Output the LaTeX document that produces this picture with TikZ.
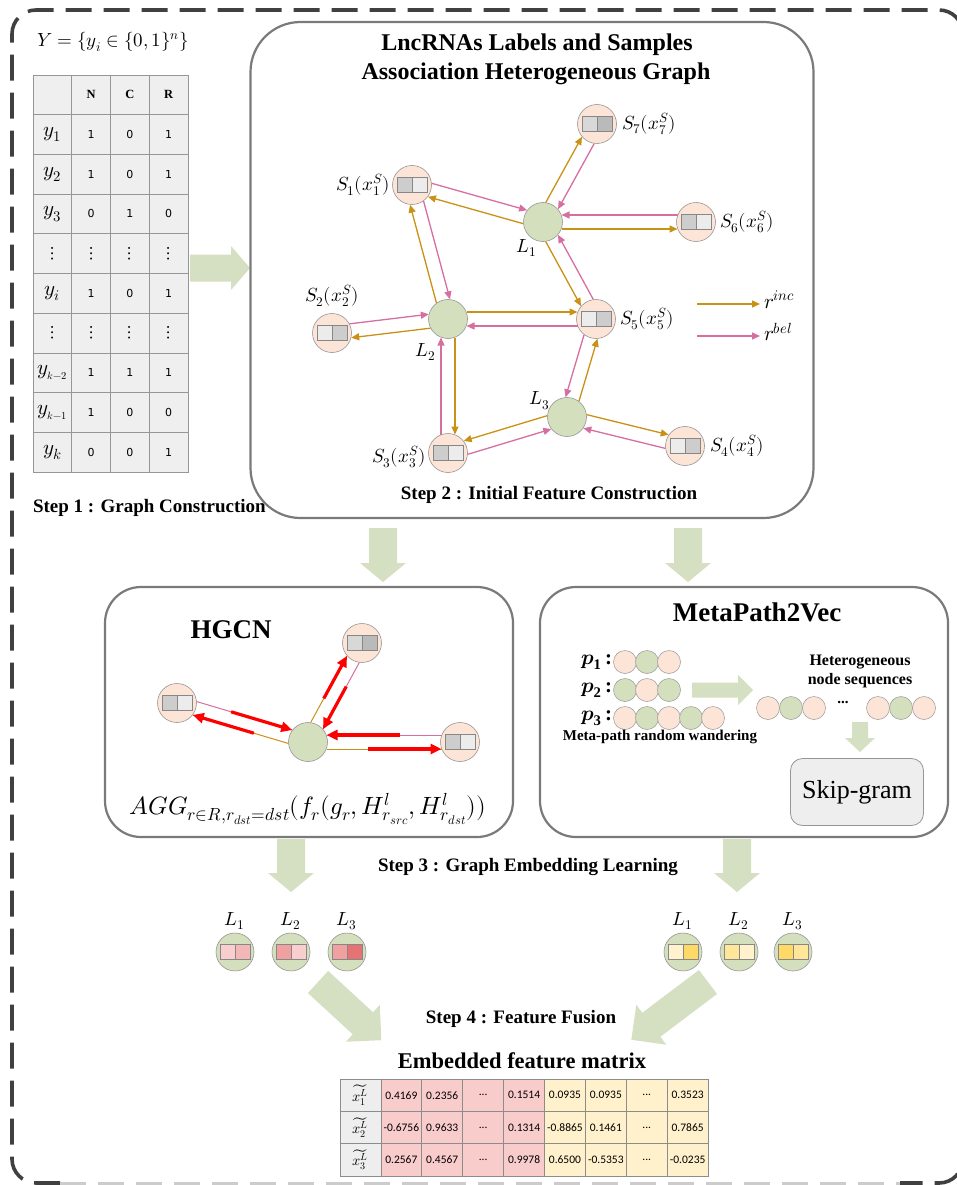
\documentclass[tikz,border=0pt]{standalone}
\usepackage{fontspec}
\usepackage{unicode-math}
\setmainfont{Liberation Serif}
\setmathfont{Latin Modern Math}
\newfontfamily\calibf{Carlito}
\newfontfamily\dejaf{DejaVu Sans}
\usetikzlibrary{calc,arrows.meta,shapes.geometric}

\definecolor{peach}{RGB}{252,228,214}
\definecolor{lgreen}{RGB}{212,223,190}
\definecolor{agreen}{RGB}{213,223,194}
\definecolor{goldc}{RGB}{201,145,22}
\definecolor{pinkc}{RGB}{215,110,160}
\definecolor{bordgray}{RGB}{122,122,122}
\definecolor{nodegray}{RGB}{150,150,150}
\definecolor{bargray}{RGB}{135,135,135}
\definecolor{tgray}{RGB}{239,239,239}
\definecolor{tline}{RGB}{150,150,150}
\definecolor{outerc}{RGB}{64,64,64}
\definecolor{matpink}{RGB}{249,204,204}
\definecolor{matyel}{RGB}{255,241,204}
\definecolor{matgray}{RGB}{238,238,238}
\definecolor{mline}{RGB}{140,140,140}
\definecolor{ga}{RGB}{236,236,236}
\definecolor{gb}{RGB}{205,205,205}
\definecolor{gc}{RGB}{216,216,216}
\definecolor{gd}{RGB}{186,186,186}
\definecolor{hpa}{RGB}{248,206,206}
\definecolor{hpb}{RGB}{244,183,183}
\definecolor{hpc}{RGB}{241,160,160}
\definecolor{hpd}{RGB}{229,115,115}
\definecolor{ya}{RGB}{255,242,204}
\definecolor{yb}{RGB}{255,217,102}
\definecolor{yc}{RGB}{255,230,153}

\newcommand\fsz[1]{\fontsize{#1}{#1}\selectfont}

\newcommand\featbar[5]{%
  \draw[bar, fill=#2] ([shift={(-#4,-#5)}]#1.center) rectangle ([shift={(0,#5)}]#1.center);
  \draw[bar, fill=#3] ([shift={(0,-#5)}]#1.center) rectangle ([shift={(#4,#5)}]#1.center);}

\newcommand\biedge[4]{%
  \draw[incE] ($(#1)!7pt!#3:(#2)$) -- ($(#2)!7pt!#4:(#1)$);
  \draw[belE] ($(#2)!7pt!#3:(#1)$) -- ($(#1)!7pt!#4:(#2)$);}

\newcommand\hpair[4]{%
  \coordinate (qa) at ($(#1)!7pt!#3:(#2)$);
  \coordinate (qb) at ($(#2)!7pt!#4:(#1)$);
  \coordinate (qc) at ($(#2)!7pt!#3:(#1)$);
  \coordinate (qd) at ($(#1)!7pt!#4:(#2)$);
  \coordinate (qa2) at ($(qa)!18.5pt!(qb)$);
  \coordinate (qb2) at ($(qb)!18.5pt!(qa)$);
  \coordinate (qc2) at ($(qc)!18.5pt!(qd)$);
  \coordinate (qd2) at ($(qd)!18.5pt!(qc)$);
  \draw[goldc, line width=1pt] (qa2) -- (qb2);
  \draw[pinkc, line width=1pt] (qc2) -- (qd2);
  \draw[redA] ($(qa2)!0.36!(qb2)$) -- (qb2);
  \draw[redA] ($(qc2)!0.36!(qd2)$) -- (qd2);}

\newcommand\blockarrow[7]{%
  \begin{scope}[shift={(#1,#2)}, rotate=#3]
    \fill[agreen] (0,-#5) -- ({#4-#7},-#5) -- ({#4-#7},-#6) -- (#4,0) -- ({#4-#7},#6) -- ({#4-#7},#5) -- (0,#5) -- cycle;
  \end{scope}}

\begin{document}
\begin{tikzpicture}[x=1pt,y=-1pt,
  every node/.style={inner sep=0pt, outer sep=0pt},
  panel/.style={draw=bordgray, line width=2.2pt, anchor=north west},
  snode/.style={circle, draw=nodegray, line width=0.6pt, fill=peach, minimum size=39pt},
  lnode/.style={circle, draw=nodegray, line width=0.6pt, fill=lgreen, minimum size=39pt},
  enode/.style={circle, draw=nodegray, line width=0.6pt, fill=lgreen, minimum size=38pt},
  bar/.style={draw=bargray, line width=0.7pt},
  incE/.style={draw=goldc, line width=1.3pt, -{Triangle[length=8pt,width=7pt]}, shorten <=18.5pt, shorten >=18.5pt},
  belE/.style={draw=pinkc, line width=1.3pt, -{Triangle[length=8pt,width=7pt]}, shorten <=18.5pt, shorten >=18.5pt},
  redA/.style={draw=red, line width=3.2pt, -{Triangle[length=11pt,width=10pt]}},
  lab/.style={font=\fsz{19}},
  stepl/.style={font=\bfseries\fsz{19}},
  tcell/.style={draw=tline, fill=tgray, line width=0.8pt, minimum width=38.75pt, minimum height=39.7pt},
  mcell/.style={draw=mline, line width=0.7pt, minimum width=40.9pt, minimum height=32.33pt, font=\calibf\fsz{11.5}},
  seqP/.style={circle, draw=nodegray, line width=0.5pt, fill=peach, minimum size=23pt},
  seqG/.style={circle, draw=nodegray, line width=0.5pt, fill=lgreen, minimum size=23pt},
]
\useasboundingbox (0,0) rectangle (957,1185);

% outer dashed frame
\draw[line width=3.6pt, draw=outerc, dash pattern=on 26pt off 12pt, rounded corners=24pt]
  (60,1183) -- (12,1183) -- (12,10) -- (963,10) -- (963,1183) -- (900,1183);
\draw[line width=3pt, draw=black!20, dash pattern=on 26pt off 12pt] (60,1183) -- (900,1183);

% ---------- Step 1 : table ----------
\node[font=\fsz{19}, anchor=west] (Yset) at (37,42) {$Y=\{y_i\in\{0,1\}^n\}$};
\node[tcell] (t0-0) at (52.4,94.85) {};
\node[tcell, font=\bfseries\fsz{12.5}] (t0-1) at (91.1,94.85) {N};
\node[tcell, font=\bfseries\fsz{12.5}] (t0-2) at (129.9,94.85) {C};
\node[tcell, font=\bfseries\fsz{12.5}] (t0-3) at (168.6,94.85) {R};
\foreach \r/\lab/\va/\vb/\vc in {
 1/{$y_1$}/1/0/1,
 2/{$y_2$}/1/0/1,
 3/{$y_3$}/0/1/0,
 4/{{\fsz{19}$\vdots$}}/{{\fsz{19}$\vdots$}}/{{\fsz{19}$\vdots$}}/{{\fsz{19}$\vdots$}},
 5/{$y_i$}/1/0/1,
 6/{{\fsz{19}$\vdots$}}/{{\fsz{19}$\vdots$}}/{{\fsz{19}$\vdots$}}/{{\fsz{19}$\vdots$}},
 7/{$y_{\scriptscriptstyle k-2}$}/1/1/1,
 8/{$y_{\scriptscriptstyle k-1}$}/1/0/0,
 9/{$y_k$}/0/0/1}{
  \pgfmathsetmacro\ty{75+39.7*(\r+0.5)}
  \node[tcell, font=\fsz{21}] (t\r-0) at (52.4,\ty) {\lab};
  \node[tcell, font=\dejaf\fsz{11}] (t\r-1) at (91.1,\ty) {\va};
  \node[tcell, font=\dejaf\fsz{11}] (t\r-2) at (129.9,\ty) {\vb};
  \node[tcell, font=\dejaf\fsz{11}] (t\r-3) at (168.6,\ty) {\vc};
}
\node[stepl, anchor=west] (step1) at (33,508) {Step 1 : Graph Construction};

\blockarrow{190}{268}{0}{60}{13.5}{22}{19}

% ---------- Step 2 : graph ----------
\node[panel, minimum width=563pt, minimum height=496pt, rounded corners=50pt] (gbox) at (250.5,22) {};
\node[font=\bfseries\fsz{24}] (gt1) at (537,45) {LncRNAs Labels and Samples};
\node[font=\bfseries\fsz{24}] (gt2) at (536,74) {Association Heterogeneous Graph};

\node[lnode] (L1) at (543,222) {};
\node[lnode] (L2) at (448,319) {};
\node[lnode] (L3) at (567,417) {};
\node[snode] (S1) at (412,185) {};
\node[snode] (S2) at (332,333) {};
\node[snode] (S3) at (448,453) {};
\node[snode] (S4) at (685,446) {};
\node[snode] (S5) at (596,319) {};
\node[snode] (S6) at (696,222) {};
\node[snode] (S7) at (597,124) {};
\featbar{S1}{gb}{ga}{15}{7.5}
\featbar{S2}{ga}{gb}{15}{7.5}
\featbar{S3}{gb}{ga}{15}{7.5}
\featbar{S4}{ga}{gb}{15}{7.5}
\featbar{S5}{ga}{gb}{15}{7.5}
\featbar{S6}{gb}{ga}{15}{7.5}
\featbar{S7}{gc}{gd}{15}{7.5}

\node[lab, anchor=west] (S7l) at (622,124) {$S_7(x_7^S)$};
\node[lab, anchor=east] (S1l) at (390,185) {$S_1(x_1^S)$};
\node[lab] (L1l) at (527,248) {$L_1$};
\node[lab, anchor=west] (S6l) at (720,222) {$S_6(x_6^S)$};
\node[lab] (S2l) at (332,296) {$S_2(x_2^S)$};
\node[lab] (L2l) at (426,352) {$L_2$};
\node[lab, anchor=west] (S5l) at (620,319) {$S_5(x_5^S)$};
\node[lab] (L3l) at (540,401) {$L_3$};
\node[lab, anchor=east] (S3l) at (426,457) {$S_3(x_3^S)$};
\node[lab, anchor=west] (S4l) at (710,446) {$S_4(x_4^S)$};

\biedge{L1}{S7}{90}{-90}
\biedge{L1}{S1}{90}{-90}
\biedge{L1}{S6}{-90}{90}
\biedge{L2}{S1}{90}{-90}
\biedge{L1}{S5}{-90}{90}
\biedge{L2}{S5}{90}{-90}
\biedge{L2}{S2}{90}{-90}
\biedge{L2}{S3}{90}{-90}
\biedge{L3}{S5}{-90}{90}
\biedge{L3}{S3}{-90}{90}
\biedge{L3}{S4}{90}{-90}

% legend
\coordinate (lga) at (697,304); \coordinate (lgb) at (760,304);
\coordinate (lgc) at (697,336); \coordinate (lgd) at (760,336);
\draw[incE, shorten <=0pt, shorten >=0pt] (lga) -- (lgb);
\draw[belE, shorten <=0pt, shorten >=0pt] (lgc) -- (lgd);
\node[font=\fsz{21}, anchor=west] (rinc) at (764,300) {$r^{inc}$};
\node[font=\fsz{21}, anchor=west] (rbel) at (764,332) {$r^{bel}$};

\node[stepl] (step2) at (549,495) {Step 2 : Initial Feature Construction};

\blockarrow{383}{528}{-90}{54}{14}{23}{19}
\blockarrow{688}{528}{-90}{54}{14}{23}{19}

% ---------- HGCN ----------
\node[panel, minimum width=408pt, minimum height=250pt, rounded corners=36pt] (hbox) at (105,587) {};
\node[font=\bfseries\fsz{27}] (htitle) at (231,630) {HGCN};
\node[lnode] (hL) at (308,742) {};
\node[snode] (hS1) at (177,703) {};
\node[snode] (hS2) at (362,643) {};
\node[snode] (hS3) at (460,742) {};
\featbar{hS1}{gb}{ga}{15}{7.5}
\featbar{hS2}{gc}{gd}{15}{7.5}
\featbar{hS3}{gb}{ga}{15}{7.5}
\hpair{hL}{hS2}{90}{-90}
\hpair{hL}{hS1}{90}{-90}
\hpair{hL}{hS3}{-90}{90}
\node[font=\fsz{25}] (agg) at (308,809) {$AGG_{r\in R,r_{dst}=dst}(f_r(g_r,H^l_{r_{src}},H^l_{r_{dst}}))$};

% ---------- MetaPath2Vec ----------
\node[panel, minimum width=408pt, minimum height=250pt, rounded corners=36pt] (mbox) at (540,587) {};
\node[font=\bfseries\fsz{27}] (mtitle) at (757,612) {MetaPath2Vec};
\node[font=\fsz{21}, anchor=east] (p1) at (612,662) {$\symbfit{p}_{\mathbf{1}}$\,\textbf{:}};
\node[font=\fsz{21}, anchor=east] (p2) at (612,690) {$\symbfit{p}_{\mathbf{2}}$\,\textbf{:}};
\node[font=\fsz{21}, anchor=east] (p3) at (612,718) {$\symbfit{p}_{\mathbf{3}}$\,\textbf{:}};
\node[seqP] (a1) at (625,662) {};
\node[seqG] (a2) at (647,662) {};
\node[seqP] (a3) at (669,662) {};
\node[seqG] (b1) at (625,690) {};
\node[seqP] (b2) at (647,690) {};
\node[seqG] (b3) at (669,690) {};
\node[seqP] (c1) at (625,718) {};
\node[seqG] (c2) at (647,718) {};
\node[seqP] (c3) at (669,718) {};
\node[seqG] (c4) at (691,718) {};
\node[seqP] (c5) at (713,718) {};
\node[font=\bfseries\fsz{15}] (mrw) at (660,737) {Meta-path random wandering};
\blockarrow{692}{690}{0}{61}{7.5}{15}{15}
\node[font=\bfseries\fsz{16}] (het1) at (860,662) {Heterogeneous};
\node[font=\bfseries\fsz{16}] (het2) at (860,681) {node sequences};
\node[seqP] (d1) at (768,708) {};
\node[seqG] (d2) at (791,708) {};
\node[seqP] (d3) at (814,708) {};
\node[font=\bfseries\fsz{15}] (dots) at (843,702) {...};
\node[seqP] (e1) at (878,708) {};
\node[seqG] (e2) at (901,708) {};
\node[seqP] (e3) at (924,708) {};
\blockarrow{860}{722}{-90}{30}{8}{15}{14}
\node[draw=nodegray, line width=0.8pt, fill=matgray, rounded corners=12pt, minimum width=133pt, minimum height=67pt, font=\fsz{26}] (skip) at (857,792) {Skip-gram};

% ---------- Step 3 ----------
\blockarrow{291}{839}{-90}{53}{14}{23}{19}
\blockarrow{737}{839}{-90}{53}{14}{23}{19}
\node[stepl] (step3) at (528,867) {Step 3 : Graph Embedding Learning};

\foreach \n/\x/\ca/\cb in {1/235/hpa/hpb, 2/291/hpc/hpa, 3/347/hpc/hpd}{
  \node[lab] (hLl\n) at (\x,921) {$L_\n$};
  \node[enode] (hE\n) at (\x,952) {};
  \featbar{hE\n}{\ca}{\cb}{15}{7.5}
}
\foreach \n/\x/\ca/\cb in {1/683/ya/yb, 2/739/yc/ya, 3/793/yb/yc}{
  \node[lab] (mLl\n) at (\x,921) {$L_\n$};
  \node[enode] (mE\n) at (\x,952) {};
  \featbar{mE\n}{\ca}{\cb}{15}{7.5}
}

% ---------- Step 4 ----------
\blockarrow{318}{982}{-42.6}{86}{15}{25}{25}
\blockarrow{708}{982}{-143}{96}{15}{25}{25}
\node[stepl] (step4) at (521,1019) {Step 4 : Feature Fusion};
\node[font=\bfseries\fsz{22.5}] (emb) at (522,1061) {Embedded feature matrix};

\foreach \r/\lab/\va/\vb/\vc/\vd/\ve/\vf/\vg/\vh in {
 1/{$\widetilde{x_1^L}$}/0.4169/0.2356/{...}/0.1514/0.0935/0.0935/{...}/0.3523,
 2/{$\widetilde{x_2^L}$}/-0.6756/0.9633/{...}/0.1314/-0.8865/0.1461/{...}/0.7865,
 3/{$\widetilde{x_3^L}$}/0.2567/0.4567/{...}/0.9978/0.6500/-0.5353/{...}/-0.0235}{
  \pgfmathsetmacro\my{1079+32.33*(\r-0.5)}
  \node[mcell, fill=matgray, font=\fsz{14.5}] (m\r-0) at (360.45,\my) {\lab};
  \node[mcell, fill=matpink] (m\r-1) at (401.35,\my) {\va};
  \node[mcell, fill=matpink] (m\r-2) at (442.25,\my) {\vb};
  \node[mcell, fill=matpink] (m\r-3) at (483.15,\my) {\vc};
  \node[mcell, fill=matpink] (m\r-4) at (524.05,\my) {\vd};
  \node[mcell, fill=matyel] (m\r-5) at (564.95,\my) {\ve};
  \node[mcell, fill=matyel] (m\r-6) at (605.85,\my) {\vf};
  \node[mcell, fill=matyel] (m\r-7) at (646.75,\my) {\vg};
  \node[mcell, fill=matyel] (m\r-8) at (687.65,\my) {\vh};
}
\end{tikzpicture}
\end{document}
